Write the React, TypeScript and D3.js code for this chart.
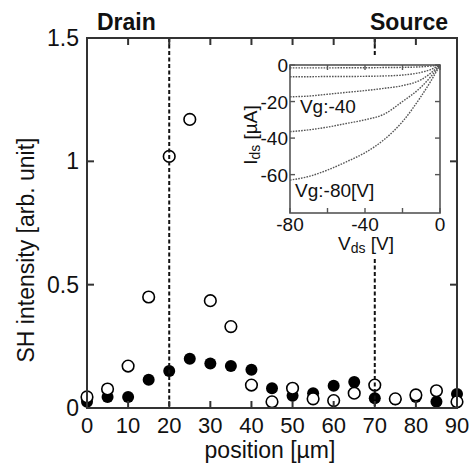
import React from "react";
import * as d3 from "d3";

// SH intensity along the channel
const positions = [0, 5, 10, 15, 20, 25, 30, 35, 40, 45, 50, 55, 60, 65, 70, 75, 80, 85, 90];
const openValues = [0.045, 0.077, 0.17, 0.45, 1.02, 1.17, 0.435, 0.33, 0.093, 0.025, 0.08, 0.037, 0.03, 0.06, 0.093, 0.037, 0.053, 0.07, 0.025];
const filledValues = [0.025, 0.045, 0.045, 0.115, 0.15, 0.2, 0.18, 0.17, 0.155, 0.08, 0.05, 0.06, 0.09, 0.105, 0.04, 0.035, 0.045, 0.025, 0.057];
const xTicks = [0, 10, 20, 30, 40, 50, 60, 70, 80, 90];
const yTicks = [0, 0.5, 1, 1.5];
const electrodes = [20, 70];

// inset: Ids-Vds curves
const vds = [-80, -70, -60, -50, -40, -30, -20, -10, -5, 0];
const ids0 = [-1.6, -1.6, -1.6, -1.5, -1.5, -1.4, -1.3, -1, -0.6, 0];
const ids20 = [-6.4, -6.4, -6.3, -6.3, -6.2, -6, -5.5, -4, -2.5, 0];
const ids40 = [-17.4, -17, -16, -15, -14, -12.8, -11.3, -8, -4.5, 0];
const ids60 = [-36.5, -35.5, -34, -32, -30, -27, -20, -12, -6.5, 0];
const ids80 = [-63, -61, -57.5, -53, -48, -41, -31, -17, -9, 0];
const insetCurves = [ids0, ids20, ids40, ids60, ids80];
const insetXTicks = [-80, -60, -40, -20, 0];
const insetXLabels = [-80, -40, 0];
const insetYTicks = [0, -20, -40, -60];

const font = "'Liberation Sans', Arial, sans-serif";
const axisColor = "#333";

export default function App() {
  const x = d3.scaleLinear().domain([0, 90]).range([87, 457]);
  const y = d3.scaleLinear().domain([0, 1.5]).range([408, 38]);

  const ix = d3.scaleLinear().domain([-80, 0]).range([290, 440]);
  const iy = d3.scaleLinear().domain([-81, 0]).range([213, 65]);
  const line = d3
    .line<number>()
    .x((_, i) => ix(vds[i]))
    .y((d) => iy(d))
    .curve(d3.curveMonotoneX);

  const [x0, x1] = x.range();
  const [y0, y1] = y.range();
  const [ix0, ix1] = ix.range();
  const [iy0, iy1] = iy.range();

  return (
    <svg width={471} height={464} style={{ position: "absolute", left: 0, top: 0, background: "#fff" }} fontFamily={font}>
      {/* filled circles */}
      {filledValues.map((v, i) => (
        <circle key={"f" + i} cx={x(positions[i])} cy={y(v)} r={6} fill="#000" />
      ))}
      {/* open circles */}
      {openValues.map((v, i) => (
        <circle key={"o" + i} cx={x(positions[i])} cy={y(v)} r={5.8} fill="#fff" stroke="#000" strokeWidth={1.6} />
      ))}

      {/* electrode edges */}
      {electrodes.map((e) => (
        <line key={e} x1={x(e)} x2={x(e)} y1={y1} y2={y0} stroke="#111" strokeWidth={2} strokeDasharray="4 2.5" />
      ))}

      {/* frame */}
      <rect x={x0} y={y1} width={x1 - x0} height={y0 - y1} fill="none" stroke={axisColor} strokeWidth={2} />
      {xTicks.map((t) => (
        <g key={"xt" + t}>
          <line x1={x(t)} x2={x(t)} y1={y0} y2={y0 - 7} stroke={axisColor} strokeWidth={2} />
          <line x1={x(t)} x2={x(t)} y1={y1} y2={y1 + 7} stroke={axisColor} strokeWidth={2} />
          <text x={x(t)} y={433} fontSize={22} textAnchor="middle" fill="#111">{t}</text>
        </g>
      ))}
      {yTicks.map((t) => (
        <g key={"yt" + t}>
          <line x1={x0} x2={x0 + 7} y1={y(t)} y2={y(t)} stroke={axisColor} strokeWidth={2} />
          <line x1={x1} x2={x1 - 7} y1={y(t)} y2={y(t)} stroke={axisColor} strokeWidth={2} />
          <text x={79} y={y(t) + 8} fontSize={23} textAnchor="end" fill="#111">{t}</text>
        </g>
      ))}
      <text x={270} y={458} fontSize={23} textAnchor="middle" fill="#111">position [µm]</text>
      <text transform="translate(34,250) rotate(-90)" fontSize={23} textAnchor="middle" fill="#111">SH intensity [arb. unit]</text>
      <text x={97} y={30} fontSize={23} fontWeight="bold" fill="#111">Drain</text>
      <text x={448} y={30} fontSize={23} fontWeight="bold" textAnchor="end" fill="#111">Source</text>

      {/* inset */}
      <rect x={238} y={57} width={210} height={200} fill="#fff" />
      {insetCurves.map((c, k) => (
        <path key={"c" + k} d={line(c) || ""} fill="none" stroke="#555" strokeWidth={1.4} strokeDasharray="1.6 1.2" />
      ))}
      <rect x={ix0} y={iy1} width={ix1 - ix0} height={iy0 - iy1} fill="none" stroke="#555" strokeWidth={1.6} />
      {insetXTicks.map((t) => (
        <g key={"ixt" + t}>
          <line x1={ix(t)} x2={ix(t)} y1={iy0} y2={iy0 - 5} stroke="#555" strokeWidth={1.4} />
          <line x1={ix(t)} x2={ix(t)} y1={iy1} y2={iy1 + 5} stroke="#555" strokeWidth={1.4} />
        </g>
      ))}
      {insetXLabels.map((t) => (
        <text key={"ixl" + t} x={ix(t)} y={231} fontSize={19} textAnchor="middle" fill="#111">{t}</text>
      ))}
      {insetYTicks.map((t) => (
        <g key={"iyt" + t}>
          <line x1={ix0} x2={ix0 + 5} y1={iy(t)} y2={iy(t)} stroke="#555" strokeWidth={1.4} />
          <line x1={ix1} x2={ix1 - 5} y1={iy(t)} y2={iy(t)} stroke="#555" strokeWidth={1.4} />
          <text x={288} y={iy(t) + 7} fontSize={19} textAnchor="end" fill="#111">{t}</text>
        </g>
      ))}
      <text x={ix(-74.7)} y={iy(-26.3)} fontSize={19} fill="#111">Vg:-40</text>
      <text x={ix(-77.3)} y={iy(-72.2)} fontSize={19} fill="#111">Vg:-80[V]</text>
      <text x={366} y={250} fontSize={19} textAnchor="middle" fill="#111">
        V<tspan fontSize={14} dy={3}>ds</tspan><tspan dy={-3}> [V]</tspan>
      </text>
      <text transform="translate(257,135) rotate(-90)" fontSize={19} textAnchor="middle" fill="#111">
        I<tspan fontSize={14} dy={3}>ds</tspan><tspan dy={-3}> [µA]</tspan>
      </text>
    </svg>
  );
}
